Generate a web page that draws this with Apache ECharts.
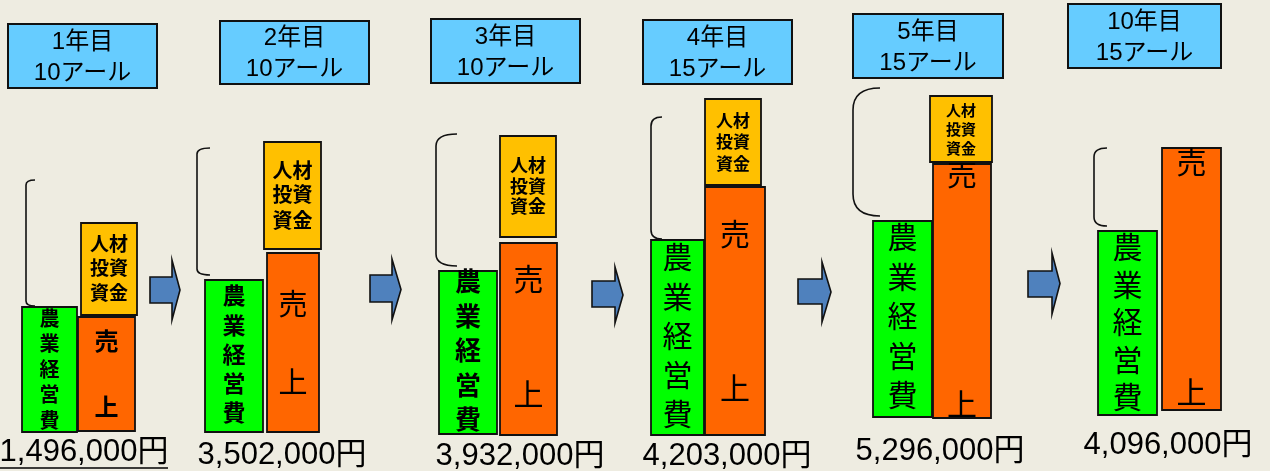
<!DOCTYPE html>
<html><head><meta charset="utf-8">
<script src="https://cdn.jsdelivr.net/npm/echarts@6/dist/echarts.min.js"></script>
<style>html,body{margin:0;padding:0;background:#EEECE1;}#c{width:1270px;height:471px;}</style>
</head><body><div id="c"></div>
<script>
// ---- data ----
const years = ['1年目','2年目','3年目','4年目','5年目','10年目'];
const areas = ['10アール','10アール','10アール','15アール','15アール','15アール'];
const totals = ['1,496,000円','3,502,000円','3,932,000円','4,203,000円','5,296,000円','4,096,000円'];
const costHeights = [125,152,163,195,196,184];
const salesHeights = [114,179,192,248,254,262];
const investHeights = [92,107,101,86,66,0];
const bracketHeights = [126,127,132,122,128,78];
const costLabel = ['農','業','経','営','費'];
const salesLabel = ['売','上'];
const investLabel = ['人材','投資','資金'];

// ---- layout (positions / sizes / styles) ----
const layout = [
 {hdr:[8,24,149,64], cost:[22,55,432], cpad:[13,10], cf:20, cb:true,
  sales:[78,57,431], s1:343, s2:409, sf:24, sb:true, inv:[81,56,2], il:[246,270,295], inf:19,
  br:[26,35,306,5], arrow:[150,172,180,277,303,260,320], tot:[84,452], under:[0,168,468]},
 {hdr:[220,21,149,63], cost:[205,58,432], cpad:[18,17], cf:23, cb:true,
  sales:[267,52,432], s1:307, s2:385, sf:29, sb:false, inv:[264,57,4], il:[172,196,222], inf:20,
  br:[197,210,275,6], arrow:[370,392,401,275,302,259,320], tot:[282,455]},
 {hdr:[431,19,149,64], cost:[439,58,434], cpad:[13,12], cf:26, cb:true,
  sales:[500,57,435], s1:282, s2:397, sf:30, sb:false, inv:[500,56,6], il:[167,188,208], inf:18,
  br:[436,457,266,12], arrow:[592,615,623,281,307,267,323], tot:[520,456]},
 {hdr:[643,20,149,64], cost:[651,53,435], cpad:[20,18], cf:30, cb:false,
  sales:[705,60,435], s1:237, s2:391, sf:30, sb:false, inv:[705,56,2], il:[122,143,165], inf:17,
  br:[651,662,239,9], arrow:[798,822,831,279,304,262,322], tot:[727,456]},
 {hdr:[853,14,150,64], cost:[873,59,417], cpad:[19,19], cf:30, cb:false,
  sales:[933,58,418], s1:177, s2:407, sf:30, sb:false, inv:[930,62,2], il:[112,131,150], inf:15,
  br:[853,880,216,22], arrow:[1028,1052,1060,271,297,253,314], tot:[940,451]},
 {hdr:[1068,4,153,64], cost:[1098,59,415], cpad:[19,15], cf:30, cb:false,
  sales:[1162,59,410], s1:165, s2:395, sf:30, sb:false, inv:null, il:null, inf:15,
  br:[1094,1107,226,9], arrow:null, tot:[1168,445]}
];
const FONT = '"Liberation Sans", "Noto Sans CJK JP", sans-serif';
const NUMFONT = '"Liberation Sans", Arial, "Noto Sans CJK JP", sans-serif';
const C = {green:'#00FF00', orange:'#FF6600', yellow:'#FFC000', header:'#66CCFF', arrow:'#4F81BD', line:'#111'};

const idx = years.map((_, i) => [i]);

function rectEl(api, x0, y0, x1, y1, fill, lw) {
  const a = api.coord([x0, y0]), b = api.coord([x1, y1]);
  return {type:'rect', shape:{x:Math.min(a[0],b[0]), y:Math.min(a[1],b[1]), width:Math.abs(b[0]-a[0]), height:Math.abs(b[1]-a[1])},
    style:{fill:fill, stroke:C.line, lineWidth:lw||1.8}};
}
function textEl(api, x, y, text, size, bold, font) {
  const p = api.coord([x, y]);
  return {type:'text', x:p[0], y:p[1], style:{text:text, fontSize:size, fontWeight:bold?'bold':'normal',
    fontFamily:font||FONT, fill:'#000', align:'center', verticalAlign:'middle'}};
}

function renderHeader(params, api) {
  const i = api.value(0), L = layout[i], h = L.hdr;
  const cx = h[0] + h[2]/2, cy = h[1] + h[3]/2;
  return {type:'group', children:[
    rectEl(api, h[0], h[1], h[0]+h[2], h[1]+h[3], C.header, 2),
    textEl(api, cx, cy-14, years[i], 24, false),
    textEl(api, cx, cy+17, areas[i], 24, false)
  ]};
}
function renderCost(params, api) {
  const i = api.value(0), L = layout[i], c = L.cost;
  const top = c[2] - costHeights[i];
  const children = [rectEl(api, c[0], top, c[0]+c[1], c[2], C.green)];
  const y0 = top + L.cpad[0], y1 = c[2] - L.cpad[1], n = costLabel.length;
  costLabel.forEach((ch, k) => children.push(textEl(api, c[0]+c[1]/2, y0 + (y1-y0)*k/(n-1), ch, L.cf, L.cb)));
  return {type:'group', children};
}
function renderSales(params, api) {
  const i = api.value(0), L = layout[i], s = L.sales;
  const top = s[2] - salesHeights[i];
  return {type:'group', children:[
    rectEl(api, s[0], top, s[0]+s[1], s[2], C.orange),
    textEl(api, s[0]+s[1]/2, L.s1, salesLabel[0], L.sf, L.sb),
    textEl(api, s[0]+s[1]/2, L.s2, salesLabel[1], L.sf, L.sb)
  ]};
}
function renderInvest(params, api) {
  const i = api.value(0), L = layout[i];
  if (!L.inv || !investHeights[i]) return {type:'group', children:[]};
  const s = L.sales, v = L.inv;
  const bottom = s[2] - salesHeights[i] - v[2];
  const top = bottom - investHeights[i];
  const children = [rectEl(api, v[0], top, v[0]+v[1], bottom, C.yellow)];
  investLabel.forEach((t, k) => children.push(textEl(api, v[0]+v[1]/2, L.il[k], t, L.inf, true)));
  return {type:'group', children};
}
function renderBracket(params, api) {
  const i = api.value(0), L = layout[i], b = L.br;
  const bottom = b[2], top = bottom - bracketHeights[i], r = b[3];
  const P = (x, y) => api.coord([x, y]);
  const a = P(b[1], top), c1 = P(b[0], top), d = P(b[0], top + r), e = P(b[0], bottom - r), c2 = P(b[0], bottom), f = P(b[1], bottom);
  const pathData = `M${a[0]} ${a[1]} Q${c1[0]} ${c1[1]} ${d[0]} ${d[1]} L${e[0]} ${e[1]} Q${c2[0]} ${c2[1]} ${f[0]} ${f[1]}`;
  return {type:'path', shape:{pathData}, style:{fill:'none', stroke:C.line, lineWidth:1.6}};
}
function renderArrow(params, api) {
  const i = api.value(0), L = layout[i], a = L.arrow;
  if (!a) return {type:'group', children:[]};
  const mid = (a[5] + a[6]) / 2;
  const pts = [[a[0],a[3]],[a[1],a[3]],[a[1],a[5]],[a[2],mid],[a[1],a[6]],[a[1],a[4]],[a[0],a[4]]].map(q => api.coord(q));
  return {type:'polygon', shape:{points:pts}, style:{fill:C.arrow, stroke:C.line, lineWidth:1.6}};
}
function renderTotal(params, api) {
  const i = api.value(0), L = layout[i];
  const children = [textEl(api, L.tot[0], L.tot[1], totals[i], 31, false, NUMFONT)];
  if (L.under) {
    const p = api.coord([L.under[0], L.under[2]]), q = api.coord([L.under[1], L.under[2]]);
    children.push({type:'line', shape:{x1:p[0], y1:p[1], x2:q[0], y2:q[1]}, style:{stroke:'#000', lineWidth:1.5}});
  }
  return {type:'group', children};
}

const chart = echarts.init(document.getElementById('c'));
const mk = (name, fn) => ({type:'custom', name, data:idx, renderItem:fn, silent:true, clip:false});
chart.setOption({
  backgroundColor:'#EEECE1',
  animation:false,
  grid:{left:0, right:0, top:0, bottom:0},
  xAxis:{type:'value', min:0, max:1270, show:false},
  yAxis:{type:'value', min:0, max:471, inverse:true, show:false},
  series:[
    mk('header', renderHeader),
    mk('bracket', renderBracket),
    mk('arrow', renderArrow),
    mk('cost', renderCost),
    mk('sales', renderSales),
    mk('invest', renderInvest),
    mk('total', renderTotal)
  ]
});
</script>
</body></html>
